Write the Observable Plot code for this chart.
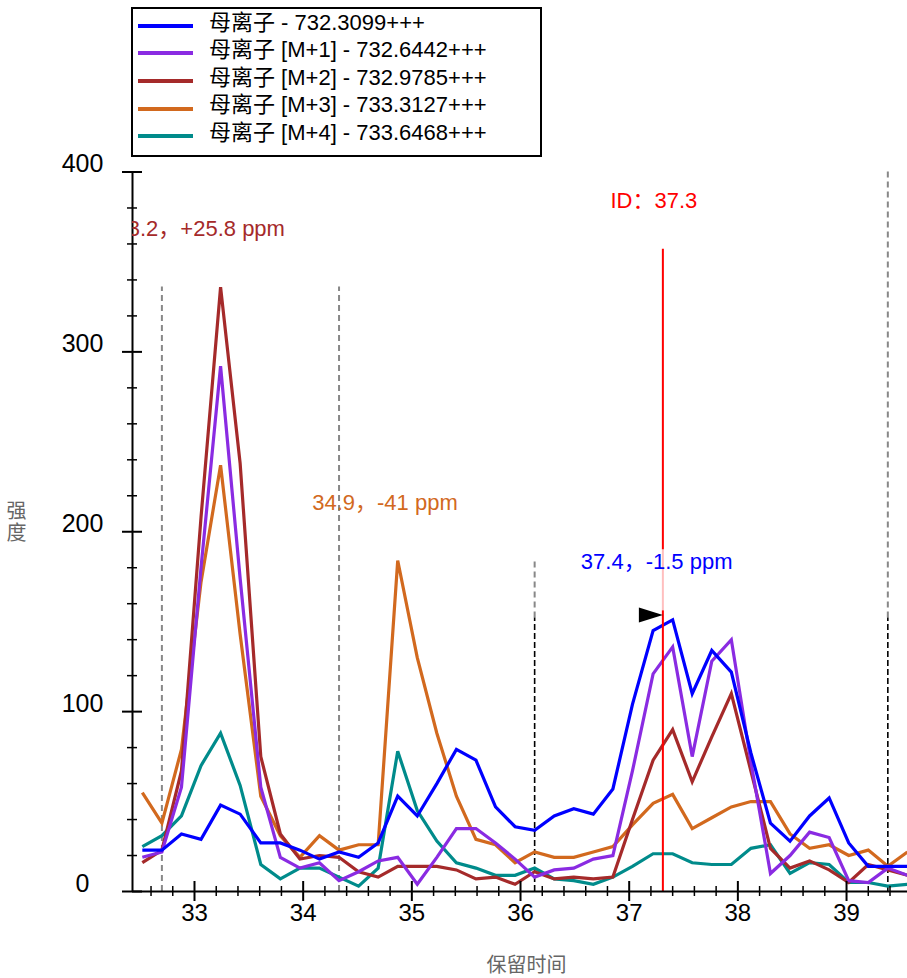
<!DOCTYPE html>
<html>
<head>
<meta charset="utf-8">
<script src="https://cdn.jsdelivr.net/npm/d3@7"></script>
<script src="https://cdn.jsdelivr.net/npm/@observablehq/plot@0.6"></script>
<style>
  html, body { margin: 0; padding: 0; background: #fff; }
  #wrap { position: relative; width: 907px; height: 978px; overflow: hidden;
          font-family: "Liberation Sans", Arial, "Noto Sans CJK SC", sans-serif; }
  #wrap svg { position: absolute; left: 0; top: 0; }
  #legend { position: absolute; left: 131px; top: 7px; width: 407px; height: 146px;
            border: 2px solid #000; background: #fff; }
  .lg-line { position: absolute; left: 5px; width: 55px; height: 4px; }
  .lg-text { position: absolute; left: 76px; font-size: 22px; line-height: 22px; white-space: nowrap; color: #000; }
</style>
</head>
<body>
<div id="wrap"><div id="legend"></div></div>
<script>
// ---- data ----
const times = [32.52, 32.70, 32.88, 33.06, 33.24, 33.42, 33.61, 33.79, 33.97, 34.15,
               34.33, 34.51, 34.69, 34.87, 35.05, 35.23, 35.41, 35.59, 35.77, 35.95,
               36.13, 36.31, 36.49, 36.67, 36.85, 37.03, 37.22, 37.40, 37.58, 37.76,
               37.94, 38.12, 38.30, 38.48, 38.66, 38.84, 39.02, 39.20, 39.38, 39.56];

const precursor = [23, 23, 32, 29, 48, 43, 27, 27, 23, 18,
                   22, 19, 27, 53, 42, 60, 79, 73, 47, 36,
                   34, 42, 46, 43, 57, 104, 145, 151, 110, 134,
                   122, 77, 38, 28, 42, 52, 27, 14, 14, 14];
const isoM1 = [19, 22, 58, 180, 292, 174, 58, 19, 13, 16,
               6, 11, 17, 19, 4, 19, 35, 35, 27, 18,
               8, 12, 13, 18, 20, 67, 121, 136, 75, 128,
               140, 72, 10, 20, 33, 30, 6, 5, 13, 9];
const isoM2 = [16, 23, 67, 208, 336, 238, 75, 32, 18, 20,
               19, 11, 8, 14, 14, 14, 12, 7, 8, 4,
               11, 7, 8, 7, 8, 40, 73, 90, 61, 86,
               110, 67, 24, 13, 17, 12, 5, 15, 12, 9];
const isoM3 = [55, 38, 79, 172, 237, 143, 53, 31, 19, 31,
               23, 26, 26, 184, 130, 88, 53, 29, 26, 16,
               22, 19, 19, 22, 25, 37, 49, 54, 35, 41,
               47, 50, 50, 32, 24, 26, 20, 23, 14, 22];
const isoM4 = [25, 31, 42, 70, 88, 59, 15, 7, 13, 13,
               8, 3, 13, 78, 45, 28, 16, 13, 9, 9,
               13, 7, 6, 4, 8, 14, 21, 21, 16, 15,
               15, 24, 26, 10, 16, 15, 5, 5, 3, 4];

const seriesNames = ["母离子 - 732.3099+++", "母离子 [M+1] - 732.6442+++", "母离子 [M+2] - 732.9785+++",
                     "母离子 [M+3] - 733.3127+++", "母离子 [M+4] - 733.6468+++"];
const seriesColors = ["#0000ff", "#8a2be2", "#a52a2a", "#d2691e", "#008b8b"];
const seriesValues = [precursor, isoM1, isoM2, isoM3, isoM4];

const xMajorTicks = [33, 34, 35, 36, 37, 38, 39];
const yMajorTicks = [0, 100, 200, 300, 400];

// peak boundaries (time, top intensity)
const boundaryTimes = [32.70, 34.33, 36.13, 39.38];
const boundaryTops  = [336, 336, 184, 400];
const selectedTimes = [36.13, 39.38];
const selectedTop = 152;

const idTime = 37.31;
const idTop = 357;

const peakTimes = [33.2, 34.9, 37.4];
const peakHeights = [336, 184, 151];
const peakTexts = ["33.2，+25.8 ppm", "34.9，-41 ppm", "37.4，-1.5 ppm"];
const peakSeries = [2, 3, 0];

const xTitle = "保留时间";
const yTitle = "强度";

// ---- build tables ----
const rows = [];
for (let s = seriesValues.length - 1; s >= 0; s--) {
  seriesValues[s].forEach((v, i) => rows.push({series: seriesNames[s], t: times[i], v}));
}
const boundaries = boundaryTimes.map((t, i) => ({t, lo: selectedTimes.includes(t) ? selectedTop : 0, hi: boundaryTops[i]}));
const selected = selectedTimes.map(t => ({t, lo: 0, hi: selectedTop}));
const peaks = peakTimes.map((t, i) => ({t, v: peakHeights[i], text: peakTexts[i], series: seriesNames[peakSeries[i]]}));
const xMinorTicks = d3.range(32.6, 39.5, 0.2).map(d => +d.toFixed(1)).filter(d => !xMajorTicks.includes(d));
const yMinorTicks = d3.range(20, 400, 20).filter(d => !yMajorTicks.includes(d));
const apex = d3.max(precursor);

const xDomain = [32.4295, 39.561];
const rightTriangle = {draw(ctx) { ctx.moveTo(0, 0); ctx.lineTo(-24, -7.5); ctx.lineTo(-24, 7.5); ctx.closePath(); }};
const frameH = 891 - 171.5;
const frameW = 907 - 132;

const chart = Plot.plot({
  width: 907, height: 978,
  marginLeft: 132, marginRight: 0, marginTop: 171.5, marginBottom: 87,
  x: {domain: xDomain, axis: null},
  y: {domain: [0, 400], axis: null},
  color: {domain: seriesNames, range: seriesColors},
  style: {fontFamily: '"Liberation Sans", Arial, "Noto Sans CJK SC", sans-serif', background: "transparent", overflow: "visible"},
  marks: [
    Plot.ruleX(boundaries, {x: "t", y1: "lo", y2: "hi", stroke: "#888", strokeWidth: 2, strokeDasharray: "6,4"}),
    Plot.ruleX(selected, {x: "t", y1: "lo", y2: "hi", stroke: "#000", strokeWidth: 1.6, strokeDasharray: "6,3"}),
    Plot.line(rows, {x: "t", y: "v", z: "series", stroke: "series", strokeWidth: 3.2,
                     strokeLinejoin: "miter", strokeMiterlimit: 4, strokeLinecap: "butt", clip: true}),
    Plot.ruleX([idTime], {x: d => d, y1: 0, y2: idTop, stroke: "#ff0000", strokeWidth: 2}),
    Plot.rect([{x1: 36.53, x2: 37.98, y1: 156, y2: 190}], {x1: "x1", x2: "x2", y1: "y1", y2: "y2", fill: "#fff", fillOpacity: 0.75}),
    Plot.dot([{t: idTime, v: apex}], {x: "t", y: "v", dy: -5, symbol: rightTriangle, fill: "#000", stroke: "none", r: 5}),
    // axis lines
    Plot.ruleX([xDomain[0]], {x: d => d, stroke: "#000", strokeWidth: 2}),
    Plot.ruleY([0], {y: d => d, stroke: "#000", strokeWidth: 2}),
    // x ticks
    Plot.tickX(xMajorTicks, {x: d => d, stroke: "#000", strokeWidth: 2, insetTop: frameH - 10, insetBottom: -10}),
    Plot.tickX(xMinorTicks, {x: d => d, stroke: "#000", strokeWidth: 1.5, insetTop: frameH - 5, insetBottom: -5}),
    // y ticks
    Plot.tickY(yMajorTicks, {y: d => d, stroke: "#000", strokeWidth: 2, insetLeft: -10, insetRight: frameW - 10}),
    Plot.tickY(yMinorTicks, {y: d => d, stroke: "#000", strokeWidth: 1.5, insetLeft: -5, insetRight: frameW - 5}),
    // tick labels
    Plot.text(xMajorTicks, {x: d => d, text: d => String(d), frameAnchor: "bottom", dy: 29, fontSize: 24, fill: "#000"}),
    Plot.text(yMajorTicks, {y: d => d, text: d => String(d), frameAnchor: "left", textAnchor: "middle", dx: -50, dy: -8, fontSize: 25, fill: "#000"}),
    // axis titles
    Plot.text([xTitle], {text: d => d, frameAnchor: "bottom", textAnchor: "middle", dx: 6.5, dy: 80, fontSize: 20, fill: "#666"}),
    Plot.text([yTitle.split("").join("\n")], {text: d => d, frameAnchor: "left", textAnchor: "middle", dx: -116, dy: -9.5, fontSize: 20, lineHeight: 1.08, fill: "#666"}),
    // annotations
    Plot.text([idTime], {x: d => d, text: d => `ID：${d.toFixed(1)}`, frameAnchor: "top", dx: -9, dy: 20.5, fontSize: 22, fill: "#ff0000"}),
    Plot.text(peaks, {x: "t", y: "v", text: "text", fill: "series", dx: -16, dy: -58, fontSize: 22, clip: true})
  ]
});
document.getElementById("wrap").prepend(chart);

// ---- legend ----
const legend = d3.select("#legend");
seriesNames.forEach((name, i) => {
  const cy = 13.5 + 27.6 * i;
  legend.append("div").attr("class", "lg-line")
    .style("top", (cy + 3.2 - 2) + "px").style("background", seriesColors[i]);
  legend.append("div").attr("class", "lg-text")
    .style("top", (cy - 11) + "px").text(name);
});
</script>
</body>
</html>
